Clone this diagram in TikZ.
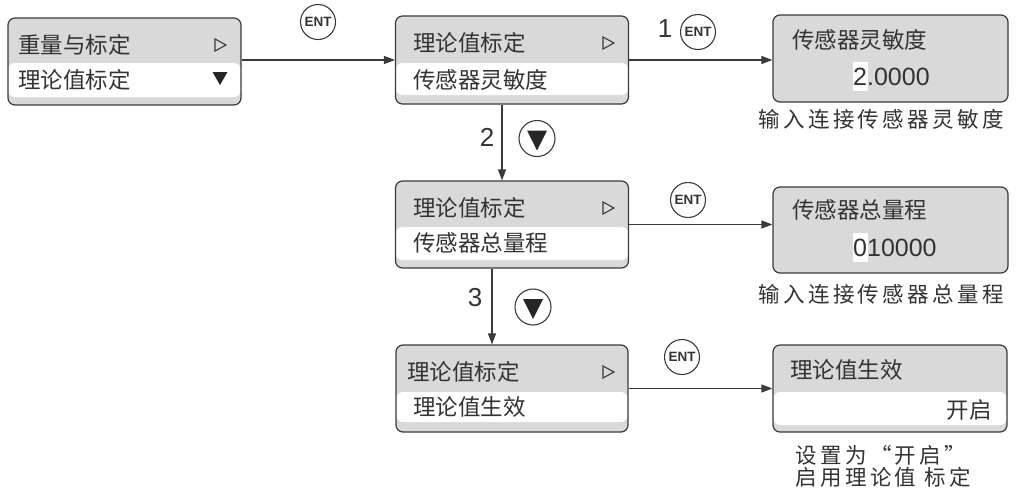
\documentclass[tikz,border=0pt]{standalone}
\usepackage{fontspec}
\setmainfont{Liberation Sans}
\newfontfamily\cjk{Noto Sans CJK SC}
\newfontfamily\cjkw[LetterSpace=16]{Noto Sans CJK SC}
\usetikzlibrary{arrows.meta}
\definecolor{lc}{HTML}{3A3A3A}
\definecolor{boxgray}{HTML}{D9D9D9}
\definecolor{txt}{HTML}{333333}
\begin{document}
\begin{tikzpicture}[x=1pt,y=-1pt,
  box/.style={draw=lc, line width=1.2pt, rounded corners=7pt, fill=boxgray,
    minimum width=233pt, minimum height=87pt, inner sep=0pt},
  band/.style 2 args={path picture={\fill[white]
    ([yshift=#1]path picture bounding box.south west) rectangle
    ([yshift=#2]path picture bounding box.south east);}},
  btxt/.style={anchor=west, inner sep=0pt, text=txt, font=\cjk\fontsize{22.5}{22.5}\selectfont},
  num/.style={inner sep=0pt, text=txt, font=\fontsize{25}{25}\selectfont},
  captxt/.style={anchor=west, inner sep=0pt, text=txt, font=\cjkw\fontsize{21.5}{22}\selectfont},
  ent/.style={circle, draw=lc, line width=1.1pt, minimum size=35pt, inner sep=0pt,
    text=txt, font=\bfseries\fontsize{13.5}{13.5}\selectfont},
  dn/.style={circle, draw=lc, line width=1.1pt, minimum size=36pt, inner sep=0pt},
  conn/.style={draw=lc, line width=1.2pt, -{Triangle[length=11pt,width=8pt]}},
  lab/.style={inner sep=0pt, text=txt, font=\fontsize{26}{26}\selectfont}
]
\useasboundingbox (0,0) rectangle (1018,488);

% boxes
\node[box, band={8pt}{42pt}] (b1) at (124.5,61.5) {};
\node[box, band={9pt}{41pt}, minimum height=88pt] (b2) at (512,60) {};
\node[box, minimum width=235pt] (b3) at (890.5,58.5) {};
\node[box, band={8pt}{41pt}] (b4) at (512,224.5) {};
\node[box, minimum width=235pt, minimum height=86pt] (b5) at (890.5,230) {};
\node[box, band={10pt}{40pt}, minimum width=232pt] (b6) at (512,388.5) {};
\node[box, band={7pt}{40pt}, minimum width=234pt] (b7) at (890,388.5) {};

% box texts
\node[btxt] (t1a) at (18,45) {重量与标定};
\node[btxt] (t1b) at (18,80) {理论值标定};
\node[btxt] (t2a) at (413,43) {理论值标定};
\node[btxt] (t2b) at (413,80) {传感器灵敏度};
\node[btxt] (t3a) at (792,40) {传感器灵敏度};
\fill[white] (853,62) rectangle (868,91);
\node[num, anchor=west] (t3b) at (853,77) {2.0000};
\node[btxt] (t4a) at (413,208) {理论值标定};
\node[btxt] (t4b) at (413,243) {传感器总量程};
\node[btxt] (t5a) at (792,210) {传感器总量程};
\fill[white] (853,233) rectangle (868,262);
\node[num, anchor=west] (t5b) at (853,248) {010000};
\node[btxt] (t6a) at (407,372) {理论值标定};
\node[btxt] (t6b) at (413,407) {理论值生效};
\node[btxt] (t7a) at (790,370) {理论值生效};
\node[btxt, anchor=east] (t7b) at (992,410) {开启};

% small triangles in boxes
\draw[lc, line width=1.1pt, line join=miter] (215,39) -- (226,45) -- (215,51) -- cycle;
\fill[black!85] (212.5,72) -- (227.5,72) -- (220,85) -- cycle;
\draw[lc, line width=1.1pt, line join=miter] (603,37) -- (614,43) -- (603,49) -- cycle;
\draw[lc, line width=1.1pt, line join=miter] (603,202) -- (614,208) -- (603,214) -- cycle;
\draw[lc, line width=1.1pt, line join=miter] (603,366) -- (614,372) -- (603,378) -- cycle;

% captions
\node[captxt] (c1) at (758,119) {输入连接传感器灵敏度};
\node[captxt] (c2) at (758,294) {输入连接传感器总量程};
\node[captxt] (c3) at (795,455) {设置为“开启”};
\node[captxt] (c4) at (795,477) {启用理论值 标定};

% ENT buttons
\node[ent] (e1) at (318,22) {ENT};
\node[ent] (e2) at (698,32) {ENT};
\node[ent] (e3) at (688,200) {ENT};
\node[ent] (e4) at (682,357) {ENT};

% down buttons
\node[dn] (d1) at (537,138.5) {};
\fill[black!85] ([xshift=-10pt,yshift=8pt]d1.center) -- ([xshift=10pt,yshift=8pt]d1.center) -- ([yshift=-12pt]d1.center) -- cycle;
\node[dn] (d2) at (533,307) {};
\fill[black!85] ([xshift=-10pt,yshift=8pt]d2.center) -- ([xshift=10pt,yshift=8pt]d2.center) -- ([yshift=-12pt]d2.center) -- cycle;

% step labels
\node[lab] (n1) at (665,29) {1};
\node[lab] (n2) at (487,137) {2};
\node[lab] (n3) at (475,298) {3};

% connectors
\draw[conn] (b1.east |- b2.west) -- (b2.west);
\draw[conn] (b2.east) -- (b3.west |- b2.east);
\draw[conn] ([xshift=-10pt]b2.south) -- ([xshift=-10pt]b4.north);
\draw[conn] (b4.east) -- (b5.west |- b4.east);
\draw[conn] ([xshift=-20pt]b4.south) -- ([xshift=-20pt]b6.north);
\draw[conn] (b6.east) -- (b7.west |- b6.east);
\end{tikzpicture}
\end{document}
